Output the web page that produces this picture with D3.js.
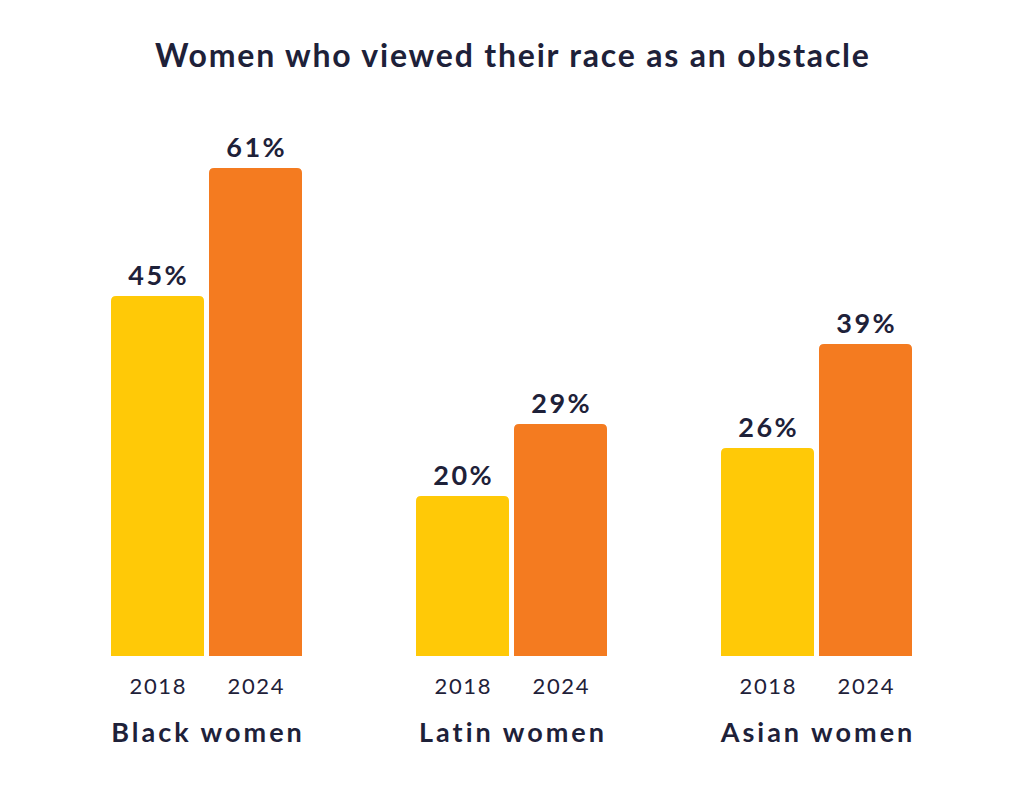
<!DOCTYPE html>
<html><head><meta charset="utf-8">
<script src="https://cdn.jsdelivr.net/npm/d3@7"></script>
<style>html,body{margin:0;padding:0;background:#fff;}svg{display:block;}</style>
</head><body>
<script>
const title = "Women who viewed their race as an obstacle";
const groups = ["Black women", "Latin women", "Asian women"];
const years = ["2018", "2024"];
const values2018 = [45, 20, 26];
const values2024 = [61, 29, 39];
const colors = ["#FFC907", "#F47B20"];

const W = 1024, H = 788;
const textColor = "#1E2139";
const font = "Lato, 'Open Sans', sans-serif";
const svg = d3.select("body").append("svg").attr("width", W).attr("height", H);

const data = [];
groups.forEach((g, i) => {
  data.push({group: g, year: years[0], value: values2018[i]});
  data.push({group: g, year: years[1], value: values2024[i]});
});

const x0 = d3.scaleBand().domain(groups).range([54, 969]).padding(0);
const x1 = d3.scaleBand().domain(years).range([57, 248]).paddingInner(5/98).paddingOuter(0);
const y = d3.scaleLinear().domain([0, 61]).range([656, 168]);
const color = d3.scaleOrdinal().domain(years).range(colors);

// letter-spacing adds trailing space; shift x by half to keep centred
function centred(sel, ls) { return sel.attr("dx", ls / 2); }

centred(svg.append("text").attr("x", 512).attr("y", 67).attr("text-anchor", "middle")
  .attr("font-family", font).attr("font-weight", 700).attr("font-size", 32)
  .attr("letter-spacing", 1.8).attr("fill", textColor).text(title), 1.8);

const r = 5;
function barPath(x, yTop, w, yBot) {
  return `M${x},${yBot} L${x},${yTop + r} Q${x},${yTop} ${x + r},${yTop} L${x + w - r},${yTop} Q${x + w},${yTop} ${x + w},${yTop + r} L${x + w},${yBot} Z`;
}

const g = svg.append("g");
g.selectAll("path.bar").data(data).join("path").attr("class", "bar")
  .attr("d", d => barPath(x0(d.group) + x1(d.year), y(d.value), x1.bandwidth(), y(0)))
  .attr("fill", d => color(d.year));

centred(g.selectAll("text.val").data(data).join("text").attr("class", "val")
  .attr("x", d => x0(d.group) + x1(d.year) + x1.bandwidth() / 2)
  .attr("y", d => y(d.value) - 11)
  .attr("text-anchor", "middle").attr("font-family", font).attr("font-weight", 700)
  .attr("font-size", 27).attr("letter-spacing", 2.4).attr("fill", textColor)
  .text(d => d.value + "%"), 2.4);

centred(g.selectAll("text.year").data(data).join("text").attr("class", "year")
  .attr("x", d => x0(d.group) + x1(d.year) + x1.bandwidth() / 2)
  .attr("y", 694)
  .attr("text-anchor", "middle").attr("font-family", font).attr("font-weight", 400)
  .attr("font-size", 22).attr("letter-spacing", 1.6).attr("fill", textColor)
  .text(d => d.year), 1.6);

centred(g.selectAll("text.grp").data(groups).join("text").attr("class", "grp")
  .attr("x", d => x0(d) + 57 + (248 - 57) / 2)
  .attr("y", 742)
  .attr("text-anchor", "middle").attr("font-family", font).attr("font-weight", 700)
  .attr("font-size", 27).attr("letter-spacing", 3).attr("fill", textColor)
  .text(d => d), 3);
</script>
</body></html>
